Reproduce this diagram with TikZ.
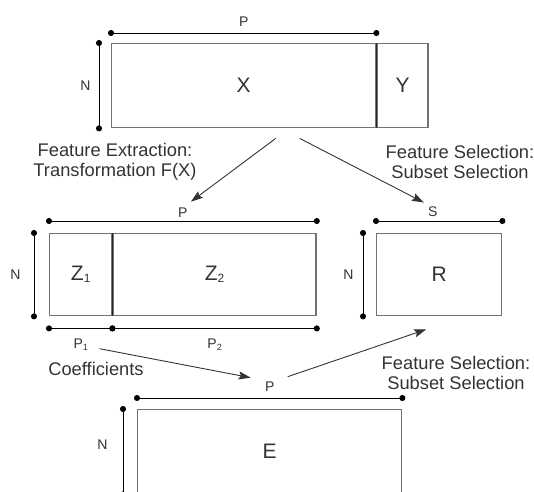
\documentclass[tikz,border=0pt]{standalone}
\usepackage{fontspec}
\setmainfont{Liberation Sans}
\usetikzlibrary{arrows.meta,positioning}
\colorlet{boxgray}{black!55}
\colorlet{inkgray}{black!80}
\def\lowsub#1#2{\raisebox{-2pt}{\fontsize{#1}{#1}\selectfont #2}}

\begin{document}
\begin{tikzpicture}[x=1pt,y=-1pt,% pixel grid, y pointing down
      every node/.style={
        align=center,     % so that "\\" breaks lines
        text=inkgray,
        inner sep=0pt
      },
      box/.style={rectangle,draw=boxgray,line width=1.4pt,anchor=north west,
        font=\fontsize{21}{21}\selectfont},
      divider/.style={draw=black!85,line width=1.1pt},
      dim/.style={font=\fontsize{14}{14}\selectfont},
      captext/.style={font=\fontsize{18.3}{20}\selectfont},
      dimline/.style={draw=black,line width=1pt,
        {Circle[length=6pt]}-{Circle[length=6pt]},
        shorten <=-3pt,shorten >=-3pt},
      every edge/.style={draw=inkgray,line width=0.9pt,
        -{Stealth[length=12pt,width=8pt,inset=2pt]}}
    ]
    \clip (0,0) rectangle (534,491);
    % data matrix and labels
    \node[box,minimum width=264pt,minimum height=84pt](X) at (111,43) {X};
    \node[box,minimum width=51pt,minimum height=84pt](Y) at (X.north east) {Y};
    \draw[divider] (X.north east) -- (X.south east);
    \draw[dimline] ([yshift=10pt]X.north west) -- ([yshift=10pt]X.north east)
      node[dim,midway,above=6pt](Ptop){P};
    \draw[dimline] ([xshift=-12pt]X.north west) -- ([xshift=-12pt]X.south west)
      node[dim,midway,left=8pt](Ntop){N};

    % transformed features
    \node[box,minimum width=62pt,minimum height=82pt](Z1) at (49,233) {Z\lowsub{12}{1}};
    \node[box,minimum width=203pt,minimum height=82pt](Z2) at (Z1.north east) {Z\lowsub{12}{2}};
    \draw[divider] (Z1.north east) -- (Z1.south east);
    \draw[dimline] ([yshift=12pt]Z1.north west) -- ([yshift=12pt]Z2.north east)
      node[dim,midway,above=3pt](Pmid){P};
    \draw[dimline] ([xshift=-15pt]Z1.north west) -- ([xshift=-15pt]Z1.south west)
      node[dim,midway,left=13pt](Nmid){N};
    \draw[dimline] ([yshift=-12pt]Z1.south west) -- ([yshift=-12pt]Z1.south east)
      node[dim,midway,below=10pt](P1){P\lowsub{9}{1}};
    \draw[dimline] ([yshift=-12pt]Z2.south west) -- ([yshift=-12pt]Z2.south east)
      node[dim,midway,below=10pt](P2){P\lowsub{9}{2}};

    % selected subset
    \node[box,minimum width=125pt,minimum height=82pt](R) at (376,233) {R};
    \draw[dimline] ([yshift=12pt]R.north west) -- ([yshift=12pt]R.north east)
      node[dim,pos=0.45,above=4pt](S){S};
    \draw[dimline] ([xshift=-13pt]R.north west) -- ([xshift=-13pt]R.south west)
      node[dim,midway,left=9pt](Nr){N};

    % result
    \node[box,minimum width=264pt,minimum height=84pt](E) at (137,409) {E};
    \draw[dimline] ([yshift=11pt]E.north west) -- ([yshift=11pt]E.north east)
      node[dim,midway,above=6pt](Pbot){P};
    \draw[dimline] ([xshift=-14pt]E.north west) -- ([xshift=-14pt]E.south west)
      node[dim,pos=0.42,left=15pt](Nbot){N};

    % captions
    \node[captext](fext) at (115,162) {Feature Extraction:\\Transformation F(X)};
    \node[captext](fsel) at (460,162) {Feature Selection:\\Subset Selection};
    \node[captext](coef) at (96,369) {Coefficients};
    \node[captext](fsel2) at (456,373) {Feature Selection:\\Subset Selection};

    \path
    ([xshift=32pt,yshift=-10pt]X.south) edge ([xshift=8pt,yshift=11pt]Pmid.center)
    ([xshift=56pt,yshift=-10pt]X.south) edge ([xshift=-9pt,yshift=9pt]S.center)
    ([xshift=19pt,yshift=-4pt]P1.center) edge ([xshift=-19pt,yshift=9pt]Pbot.center)
    ([xshift=18pt,yshift=10pt]Pbot.center) edge ([xshift=-13pt,yshift=-13pt]R.south)
    ;
  \end{tikzpicture}
\end{document}
